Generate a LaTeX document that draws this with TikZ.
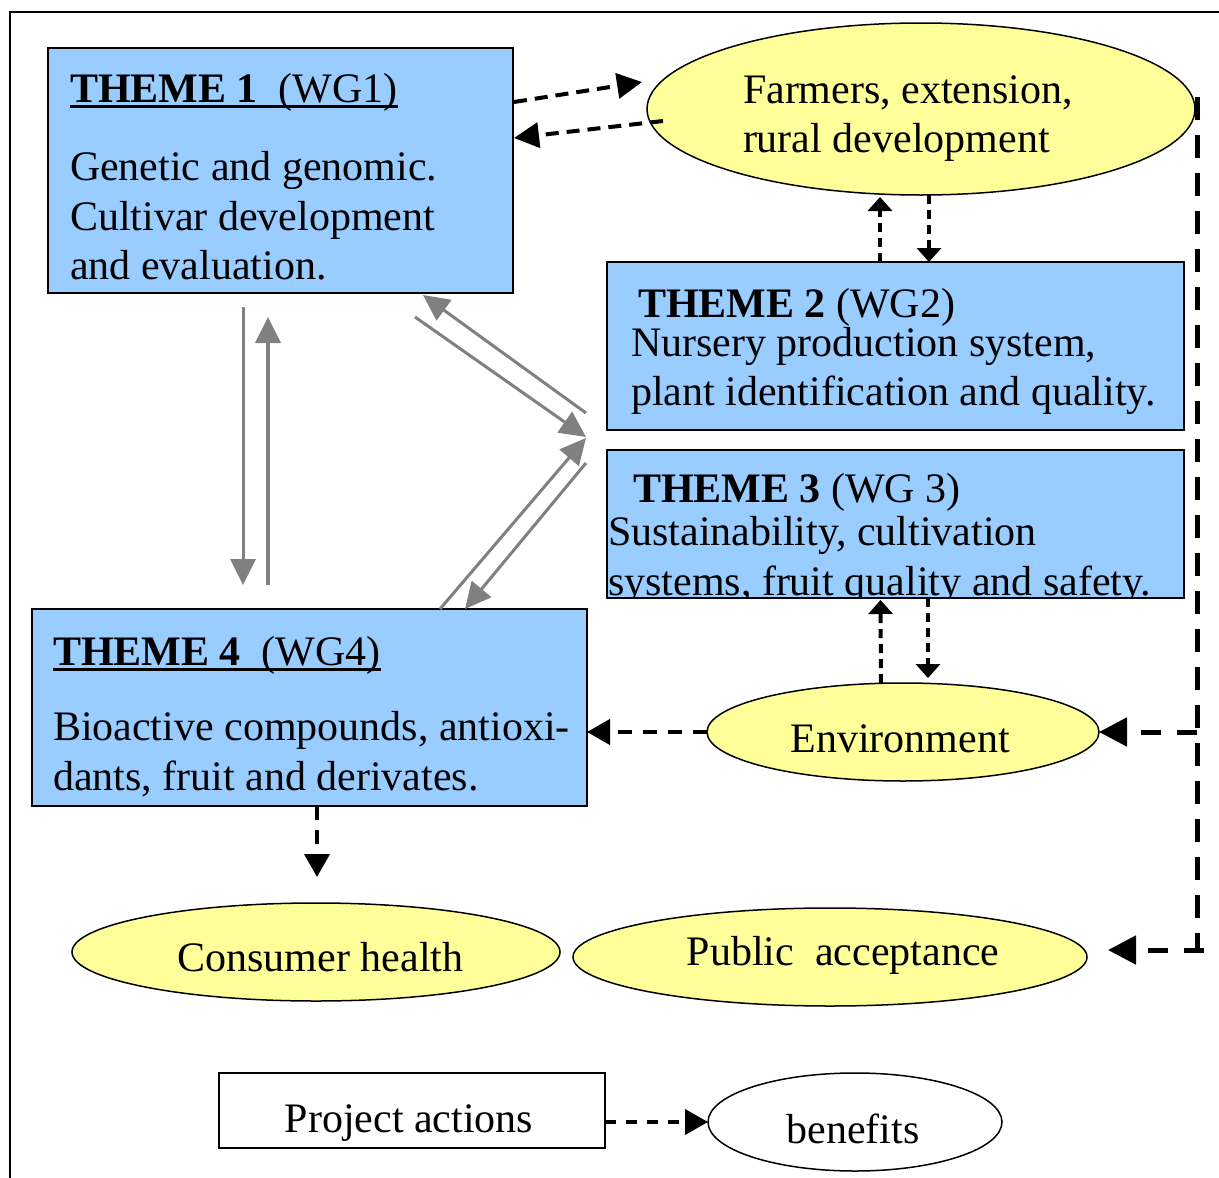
\documentclass[tikz,border=0pt]{standalone}
\usepackage{fontspec}
\setmainfont{Liberation Serif}
\usetikzlibrary{arrows.meta,shapes.geometric}
\definecolor{themeblue}{HTML}{99CCFF}
\definecolor{paleyellow}{HTML}{FFFF99}
\definecolor{linkgray}{HTML}{808080}

\begin{document}
\begin{tikzpicture}[x=1pt,y=-1pt,
  every node/.style={font=\fontsize{42}{50}\selectfont, inner sep=0pt, outer sep=0pt},
  themebox/.style={draw=black, line width=2pt, fill=themeblue, rectangle},
  actionbox/.style={draw=black, line width=1.5pt, fill=white, rectangle},
  oval/.style={draw=black, line width=1.5pt, fill=paleyellow, ellipse},
  txt/.style={anchor=base west},
  ctxt/.style={anchor=base},
  link/.style={draw=black, line width=4pt, dash pattern=on 13pt off 8pt,
    -{Triangle[length=25pt,width=25pt]}},
  shortlink/.style={draw=black, line width=4pt, dash pattern=on 9pt off 6pt,
    -{Triangle[length=14pt,width=24pt]}},
  sidelink/.style={draw=black, line width=5pt, dash pattern=on 20pt off 16pt,
    -{Triangle[length=28pt,width=28pt]}},
  bus/.style={draw=black, line width=5pt, dash pattern=on 23pt off 15pt},
  grayarrow/.style={draw=linkgray, line width=3pt,
    -{Triangle[length=26pt,width=25pt]}, color=linkgray},
]
\useasboundingbox (0,0) rectangle (1219,1178);

% outer frame
\draw[line width=2pt] (10,1178) -- (10,12) -- (1219,12);

% theme boxes
\node[themebox, minimum width=465pt, minimum height=245pt] (t1) at (280.5,170.5) {};
\node[themebox, minimum width=577pt, minimum height=168pt] (t2) at (895.5,346) {};
\node[themebox, minimum width=577pt, minimum height=148pt] (t3) at (895.5,524) {};
\node[themebox, minimum width=555pt, minimum height=197pt] (t4) at (309.5,707.5) {};

% ovals
\node[oval, minimum width=548pt, minimum height=172pt] (farm) at (921,109) {};
\node[oval, minimum width=392pt, minimum height=98pt] (env) at (903,732) {};
\node[oval, minimum width=488pt, minimum height=98pt] (health) at (316,952) {};
\node[oval, minimum width=514pt, minimum height=98pt] (pub) at (830,957) {};

% legend
\node[actionbox, minimum width=386pt, minimum height=75pt] (proj) at (412,1110.5) {};
\node[draw=black, line width=1.5pt, fill=white, ellipse,
      minimum width=294pt, minimum height=98pt] (ben) at (855,1122) {};

% theme 1 text
\node[txt] (t1title) at (70,102) {\textbf{THEME 1}\ \ (WG1)};
\draw[line width=3pt] ([yshift=-4pt]t1title.base west) -- ([yshift=-4pt]t1title.base east);
\node[txt] (t1l1) at (70,180) {Genetic and genomic.};
\node[txt] (t1l2) at (70,230) {Cultivar development};
\node[txt] (t1l3) at (70,279) {and evaluation.};

% theme 2 text
\node[txt] (t2title) at (638,317) {\textbf{THEME 2} (WG2)};
\node[txt] (t2l1) at (631,356) {Nursery production system,};
\node[txt] (t2l2) at (631,405) {plant identification and quality.};

% theme 3 text (last line is cut by the box edge)
\node[txt] (t3title) at (633,502) {\textbf{THEME 3} (WG 3)};
\node[txt] (t3l1) at (608,545) {Sustainability, cultivation};
\begin{scope}
  \clip (t3.north west) rectangle ([yshift=1pt]t3.south east);
  \node[txt] (t3l2) at (608,595) {systems, fruit quality and safety.};
\end{scope}

% theme 4 text
\node[txt] (t4title) at (53,665) {\textbf{THEME 4}\ \ (WG4)};
\draw[line width=3pt] ([yshift=-4pt]t4title.base west) -- ([yshift=-4pt]t4title.base east);
\node[txt] (t4l1) at (53,740) {Bioactive compounds, antioxi-};
\node[txt] (t4l2) at (53,790) {dants, fruit and derivates.};

% oval texts
\node[txt] (farml1) at (743,103) {Farmers, extension,};
\node[txt] (farml2) at (743,152) {rural development};
\node[ctxt] (envtxt) at (900,752) {Environment};
\node[ctxt] (healthtxt) at (320.5,971) {Consumer health};
\node[ctxt] (pubtxt) at (843,965) {Public\ \ acceptance};
\node[ctxt] (projtxt) at (409,1132) {Project actions};
\node[ctxt] (bentxt) at (853,1143) {benefits};

% theme 1 <-> farmers
\draw[link] ([yshift=68.5pt,xshift=1pt]t1.east) -- ([xshift=-5pt,yshift=27pt]farm.west);
\draw[link] ([xshift=16pt,yshift=-12pt]farm.west) -- ([yshift=32.5pt,xshift=1pt]t1.east);

% farmers <-> theme 2
\draw[shortlink] ([xshift=-15.5pt]t2.north) -- ([xshift=-41pt,yshift=-2pt]farm.south);
\draw[shortlink] ([xshift=8pt]farm.south) -- ([xshift=33.5pt]t2.north);

% theme 3 <-> environment
\draw[shortlink] ([xshift=-22pt]env.north) -- ([xshift=-15pt,yshift=-2pt]t3.south);
\draw[shortlink] ([xshift=32.5pt]t3.south) -- ([xshift=25pt,yshift=5pt]env.north);

% environment -> theme 4
\draw[link, dash pattern=on 14pt off 11pt, -{Triangle[length=23pt,width=25pt]}]
  (env.west) -- (env.west -| t4.east);

% theme 4 -> consumer health
\draw[link, dash pattern=on 14pt off 10pt, -{Triangle[length=23pt,width=25pt]}]
  ([xshift=1pt]t4.south -| health.north) -- ([xshift=1pt,yshift=26pt]health.north);

% right-hand distribution line
\coordinate (busTop) at ([xshift=2pt,yshift=12pt]farm.east);
\coordinate (busEnd) at (1204,950);
\draw[bus] (busTop) -- (busTop |- busEnd);
\draw[sidelink] (env.east -| busTop) -- (env.east);
\draw[sidelink] (busEnd) -- ([xshift=21pt,yshift=7pt]pub.east);

% links between themes
\coordinate (hub) at (586,437);
\draw[grayarrow] ([xshift=-37.5pt,yshift=-14pt]t1.south) -- ([xshift=-66.5pt,yshift=24pt]t4.north);
\draw[grayarrow, line width=4pt] ([xshift=-41.5pt,yshift=24pt]t4.north) -- ([xshift=-12.5pt,yshift=-24pt]t1.south);
\draw[grayarrow] ([xshift=-98pt,yshift=-24pt]t1.south east) -- (hub);
\draw[grayarrow] ([yshift=24pt]hub) -- ([xshift=-90pt,yshift=-2pt]t1.south east);
\draw[grayarrow] ([xshift=-147pt]t4.north east) -- ([yshift=-1pt]hub);
\draw[grayarrow] ([yshift=-26pt]hub) -- ([xshift=-122pt]t4.north east);

% legend link
\draw[link, dash pattern=on 11pt off 10pt, -{Triangle[length=23pt,width=25pt]}]
  (ben.west -| proj.east) -- (ben.west);
\end{tikzpicture}
\end{document}
